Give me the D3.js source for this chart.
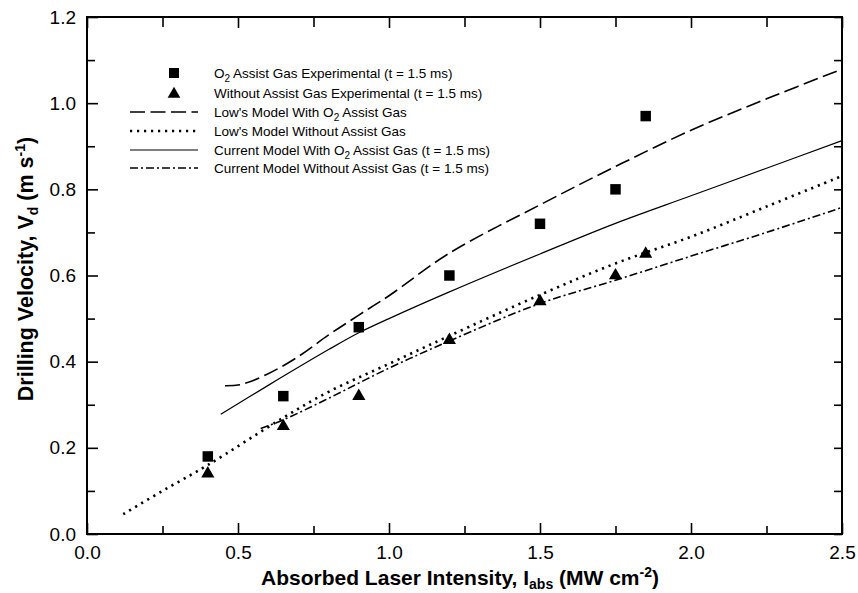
<!DOCTYPE html>
<html>
<head>
<meta charset="utf-8">
<script src="https://cdn.jsdelivr.net/npm/d3@7"></script>
<style>
  body { margin: 0; background: #fff; }
  svg { display: block; font-family: "Liberation Sans", Arial, Helvetica, sans-serif; }
</style>
</head>
<body>
<div id="chart"></div>
<script>
// experimental points
var expX = [0.4, 0.65, 0.9, 1.2, 1.5, 1.75, 1.85];
var o2ExpY = [0.18, 0.32, 0.48, 0.60, 0.72, 0.80, 0.97];
var noGasExpY = [0.14, 0.25, 0.32, 0.45, 0.54, 0.60, 0.65];

// Low's model with O2 (dashed)
var lowO2X = [0.457, 0.51, 0.6, 0.7, 0.8, 0.9, 1.0, 1.2, 1.5, 1.75, 2.0, 2.25, 2.5];
var lowO2Y = [0.344, 0.347, 0.372, 0.412, 0.462, 0.508, 0.553, 0.652, 0.764, 0.853, 0.937, 1.01, 1.079];

// Low's model without gas (dotted)
var lowNoX = [0.12, 0.25, 0.4, 0.65, 0.8, 1.0, 1.2, 1.5, 1.75, 2.0, 2.25, 2.5];
var lowNoY = [0.046, 0.1, 0.16, 0.27, 0.33, 0.395, 0.46, 0.555, 0.628, 0.69, 0.76, 0.831];

// current model with O2 (solid)
var curO2X = [0.443, 0.6, 0.8, 0.9, 1.0, 1.2, 1.5, 1.75, 2.0, 2.25, 2.5];
var curO2Y = [0.278, 0.345, 0.428, 0.467, 0.5, 0.562, 0.65, 0.721, 0.785, 0.849, 0.913];

// current model without gas (dash-dot)
var curNoX = [0.575, 0.65, 0.8, 1.0, 1.2, 1.5, 1.75, 2.0, 2.25, 2.5];
var curNoY = [0.245, 0.265, 0.315, 0.385, 0.448, 0.535, 0.589, 0.645, 0.70, 0.758];

var xMajor = [0, 0.5, 1.0, 1.5, 2.0, 2.5];
var xMinor = [0.25, 0.75, 1.25, 1.75, 2.25];
var yMajor = [0, 0.2, 0.4, 0.6, 0.8, 1.0, 1.2];
var yMinor = [0.1, 0.3, 0.5, 0.7, 0.9, 1.1];

var W = 858, H = 593;
var plot = {left: 87, right: 842, top: 17, bottom: 534};

var x = d3.scaleLinear().domain([0, 2.5]).range([plot.left, plot.right]);
var y = d3.scaleLinear().domain([0, 1.2]).range([plot.bottom, plot.top]);

var svg = d3.select("#chart").append("svg")
    .attr("width", W)
    .attr("height", H);

function zip(xs, ys) {
  return xs.map(function(v, i) { return [v, ys[i]]; });
}

// ticks (inward on all four sides)
function addAxis(axis, tx, ty, showLabels) {
  var g = svg.append("g")
      .attr("transform", "translate(" + tx + "," + ty + ")")
      .call(axis);
  g.select(".domain").remove();
  g.selectAll(".tick line").attr("stroke", "#000").attr("stroke-width", 1.6);
  g.selectAll("text").attr("font-size", "19px").attr("fill", "#000");
  if (!showLabels) g.selectAll("text").remove();
  return g;
}
var fmt = d3.format(".1f");
addAxis(d3.axisBottom(x).tickValues(xMajor).tickSize(-11).tickPadding(12).tickFormat(fmt), 0, plot.bottom, true);
addAxis(d3.axisBottom(x).tickValues(xMinor).tickSize(-8), 0, plot.bottom, false);
addAxis(d3.axisTop(x).tickValues(xMajor).tickSize(-11), 0, plot.top, false);
addAxis(d3.axisTop(x).tickValues(xMinor).tickSize(-10), 0, plot.top, false);
addAxis(d3.axisLeft(y).tickValues(yMajor).tickSize(-11).tickPadding(11).tickFormat(fmt), plot.left, 0, true);
addAxis(d3.axisLeft(y).tickValues(yMinor).tickSize(-8), plot.left, 0, false);
addAxis(d3.axisRight(y).tickValues(yMajor).tickSize(-8), plot.right, 0, false);
addAxis(d3.axisRight(y).tickValues(yMinor).tickSize(-8), plot.right, 0, false);

// frame
svg.append("rect")
    .attr("x", plot.left).attr("y", plot.top)
    .attr("width", plot.right - plot.left).attr("height", plot.bottom - plot.top)
    .attr("fill", "none").attr("stroke", "#000").attr("stroke-width", 2);

// model lines
var line = d3.line()
    .x(function(d) { return x(d[0]); })
    .y(function(d) { return y(d[1]); })
    .curve(d3.curveCatmullRom.alpha(0.5));

var styles = {
  lowO2: { w: 1.6, dash: "15,5.5" },
  lowNo: { w: 2.6, dash: "2.2,4.8" },
  curO2: { w: 1.2, dash: null },
  curNo: { w: 1.6, dash: "8,3,2,3" }
};

function drawLine(data, st) {
  svg.append("path")
      .datum(data)
      .attr("fill", "none")
      .attr("stroke", "#000")
      .attr("stroke-width", st.w)
      .attr("stroke-dasharray", st.dash)
      .attr("d", line);
}
drawLine(zip(lowO2X, lowO2Y), styles.lowO2);
drawLine(zip(lowNoX, lowNoY), styles.lowNo);
drawLine(zip(curO2X, curO2Y), styles.curO2);
drawLine(zip(curNoX, curNoY), styles.curNo);

// markers
var square = d3.symbol().type(d3.symbolSquare).size(110);
var triangle = d3.symbol().type(d3.symbolTriangle).size(75);

svg.append("g").selectAll("path")
    .data(zip(expX, o2ExpY))
    .join("path")
    .attr("d", square)
    .attr("transform", function(d) { return "translate(" + x(d[0]) + "," + y(d[1]) + ")"; })
    .attr("fill", "#000");

svg.append("g").selectAll("path")
    .data(zip(expX, noGasExpY))
    .join("path")
    .attr("d", triangle)
    .attr("transform", function(d) { return "translate(" + x(d[0]) + "," + y(d[1]) + ")"; })
    .attr("fill", "#000");

// legend
var legend = svg.append("g").attr("font-size", "13.5px");
var rowY = [73, 93, 112, 131, 150, 168];
var symX = 174, lineX1 = 130, lineX2 = 198, textX = 214;

legend.append("path").attr("d", d3.symbol().type(d3.symbolSquare).size(100)).attr("transform", "translate(" + symX + "," + rowY[0] + ")");
legend.append("path").attr("d", d3.symbol().type(d3.symbolTriangle).size(70)).attr("transform", "translate(" + symX + "," + (rowY[1] + 1) + ")");
[styles.lowO2, styles.lowNo, styles.curO2, styles.curNo].forEach(function(st, i) {
  legend.append("line")
      .attr("x1", lineX1).attr("x2", lineX2)
      .attr("y1", rowY[i + 2]).attr("y2", rowY[i + 2])
      .attr("stroke", "#000")
      .attr("stroke-width", st.w)
      .attr("stroke-dasharray", st.dash);
});

// label parts: [text, isSubscript]
var labels = [
  [["O", 0], ["2", 1], [" Assist Gas Experimental (t = 1.5 ms)", 0]],
  [["Without Assist Gas Experimental (t = 1.5 ms)", 0]],
  [["Low's Model With O", 0], ["2", 1], [" Assist Gas", 0]],
  [["Low's Model Without Assist Gas", 0]],
  [["Current Model With O", 0], ["2", 1], [" Assist Gas (t = 1.5 ms)", 0]],
  [["Current Model Without Assist Gas (t = 1.5 ms)", 0]]
];
labels.forEach(function(parts, i) {
  var t = legend.append("text").attr("x", textX).attr("y", rowY[i] + 5);
  parts.forEach(function(p) {
    var s = t.append("tspan").text(p[0]);
    if (p[1]) s.attr("font-size", "10px").attr("dy", 4);
    else if (t.selectAll("tspan").size() > 1) s.attr("dy", -4);
  });
});

// axis titles
var xt = svg.append("text")
    .attr("x", 460).attr("y", 585)
    .attr("text-anchor", "middle")
    .attr("font-weight", "bold")
    .attr("font-size", "21px");
xt.append("tspan").text("Absorbed Laser Intensity, I");
xt.append("tspan").text("abs").attr("font-size", "14px").attr("dy", 4);
xt.append("tspan").text(" (MW cm").attr("dy", -4);
xt.append("tspan").text("-2").attr("font-size", "14px").attr("dy", -8);
xt.append("tspan").text(")").attr("dy", 8);

var yt = svg.append("text")
    .attr("transform", "translate(33,269) rotate(-90)")
    .attr("text-anchor", "middle")
    .attr("font-weight", "bold")
    .attr("font-size", "21.5px");
yt.append("tspan").text("Drilling Velocity, V");
yt.append("tspan").text("d").attr("font-size", "14px").attr("dy", 5);
yt.append("tspan").text(" (m s").attr("dy", -5);
yt.append("tspan").text("-1").attr("font-size", "14px").attr("dy", -8);
yt.append("tspan").text(")").attr("dy", 8);
</script>
</body>
</html>
